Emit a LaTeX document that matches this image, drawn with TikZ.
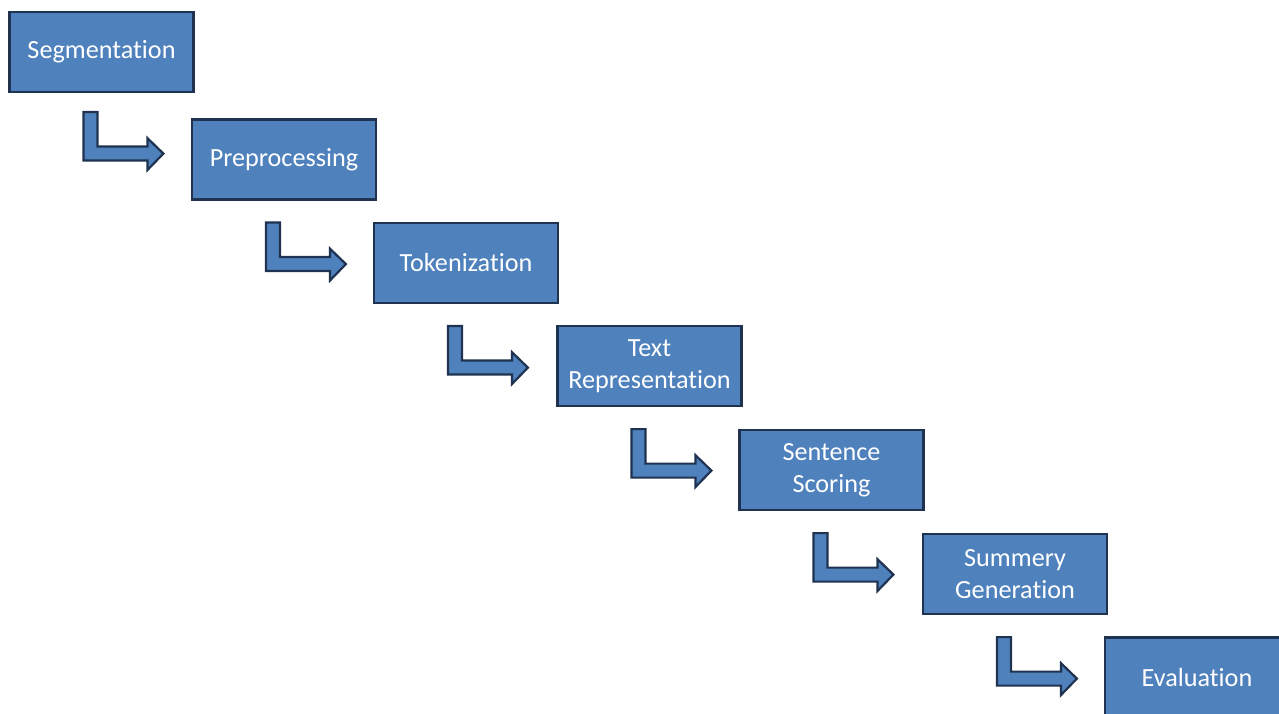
\documentclass[tikz,border=0pt]{standalone}
\usepackage{fontspec}
\setmainfont{Carlito}[Ligatures=NoCommon]
\definecolor{boxfill}{HTML}{4F81BD}
\definecolor{boxline}{HTML}{1F3350}
\tikzset{
  stage/.style={draw=boxline, fill=boxfill, line width=1.1pt, text=white,
    minimum width=92pt, minimum height=40pt, align=center,
    inner sep=2pt, font=\fontsize{13.1}{16}\selectfont},
  bentarrow/.style={draw=boxline, fill=boxfill, line width=1.1pt, line join=miter}
}
\begin{document}
\begin{tikzpicture}[x=0.5pt, y=0.5pt]
  \useasboundingbox (0,0) rectangle (1279,713);

  % Stages, one step down and right each
  \foreach \x/\y/\name/\label in {101.5/52/seg/Segmentation,
      284/159.5/pre/Preprocessing, 466/263/tok/Tokenization,
      649.5/366/rep/{Text\\Representation}, 831.5/470/sco/{Sentence\\Scoring},
      1015/574/gen/{Summery\\Generation}, 1197/677.5/eva/Evaluation} {
    \node[stage] (\name) at (\x, 713-\y) {\label};
  }

  % Bent arrows below each stage
  \foreach \a/\b/\dy in {seg/pre/3, pre/tok/0, tok/rep/0, rep/sco/0, sco/gen/0, gen/eva/0} {
    \begin{scope}[shift={(\a.south west)}, yshift=\dy*0.5pt]
      \draw[bentarrow] (75,-22) -- (89,-22) -- (89,-56.5) -- (139,-56.5)
        -- (139,-48) -- (155,-63.5) -- (139,-80) -- (139,-70.5)
        -- (75,-70.5) -- cycle;
    \end{scope}
  }
\end{tikzpicture}
\end{document}
